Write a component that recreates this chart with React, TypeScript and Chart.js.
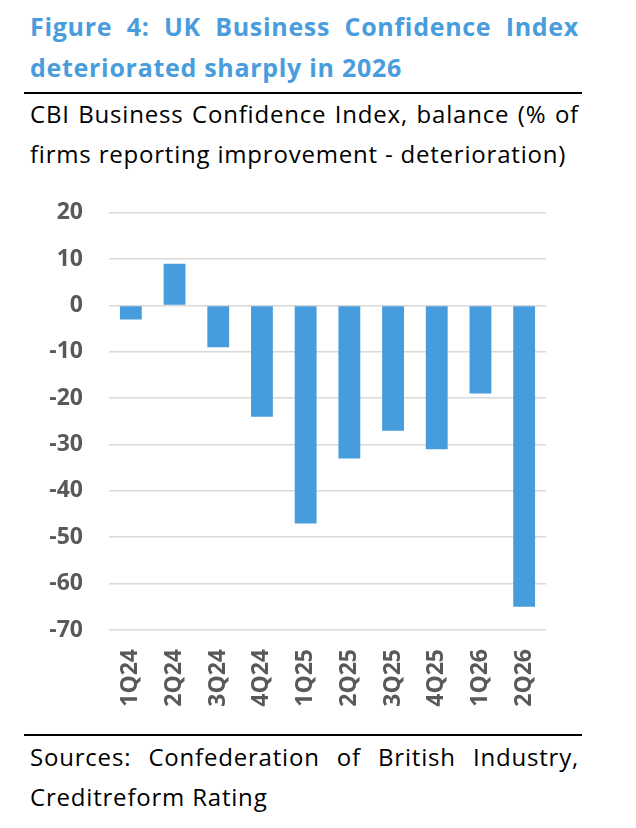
import React, { useEffect, useRef } from "react";
import { Chart, registerables } from "chart.js";

Chart.register(...registerables);

const categories = ["1Q24", "2Q24", "3Q24", "4Q24", "1Q25", "2Q25", "3Q25", "4Q25", "1Q26", "2Q26"];
const balanceValues = [-3, 9, -9, -24, -47, -33, -27, -31, -19, -65];
const yMin = -70;
const yMax = 20;
const yStep = 10;

const titleText = "Figure 4: UK Business Confidence Index deteriorated sharply in 2026";
const subtitleText = "CBI Business Confidence Index, balance (% of firms reporting improvement - deterioration)";
const sourceText = "Sources: Confederation of British Industry, Creditreform Rating";

const FONT = "'Open Sans', 'DejaVu Sans', sans-serif";

export default function App() {
  const canvasRef = useRef<HTMLCanvasElement | null>(null);

  useEffect(() => {
    if (!canvasRef.current) return;
    const chart = new Chart(canvasRef.current, {
      type: "bar",
      data: {
        labels: categories,
        datasets: [
          {
            data: balanceValues,
            backgroundColor: "#479DDC",
            borderWidth: 0,
            barPercentage: 0.5,
            categoryPercentage: 1,
          },
        ],
      },
      options: {
        animation: false,
        responsive: false,
        maintainAspectRatio: false,
        layout: { padding: { top: 4, right: 44, bottom: 0, left: 0 } },
        plugins: { legend: { display: false }, tooltip: { enabled: false }, title: { display: false } },
        scales: {
          x: {
            grid: { display: false, drawTicks: false },
            border: { display: false },
            ticks: {
              autoSkip: false,
              minRotation: 90,
              maxRotation: 90,
              padding: 19,
              color: "#595959",
              font: { family: FONT, size: 23, weight: "bold" },
            },
            afterFit: (scale: any) => {
              scale.height = 90;
            },
          },
          y: {
            min: yMin,
            max: yMax,
            grid: { color: "#d9d9d9", lineWidth: 1.6, drawTicks: false },
            border: { display: false },
            ticks: {
              stepSize: yStep,
              padding: 26,
              color: "#595959",
              font: { family: FONT, size: 23, weight: "bold" },
            },
            afterFit: (scale: any) => {
              scale.width = 89;
            },
          },
        },
      },
    });
    return () => chart.destroy();
  }, []);

  const bodyText = {
    position: "absolute" as const,
    left: 22,
    width: 549,
    fontFamily: FONT,
    fontSize: 24,
    letterSpacing: "0.8px",
    lineHeight: "40px",
    color: "#000",
    textAlign: "justify" as const,
  };

  return (
    <div style={{ position: "relative", width: 620, height: 812 }}>
      <div
        style={{
          position: "absolute",
          left: 22,
          top: -2,
          width: 549,
          fontFamily: FONT,
          fontWeight: 700,
          fontSize: 25,
          letterSpacing: "0.7px",
          lineHeight: "41px",
          color: "#499DDD",
          textAlign: "justify",
        }}
      >
        {titleText}
      </div>
      <div style={{ position: "absolute", left: 16, top: 84, width: 558, height: 2, background: "#000" }} />
      <div style={{ ...bodyText, top: 86 }}>{subtitleText}</div>
      <canvas
        ref={canvasRef}
        width={570}
        height={547}
        style={{ position: "absolute", left: 12, top: 165, width: 570, height: 547 }}
      />
      <div style={{ position: "absolute", left: 16, top: 726, width: 558, height: 2, background: "#000" }} />
      <div style={{ ...bodyText, top: 729 }}>{sourceText}</div>
    </div>
  );
}
